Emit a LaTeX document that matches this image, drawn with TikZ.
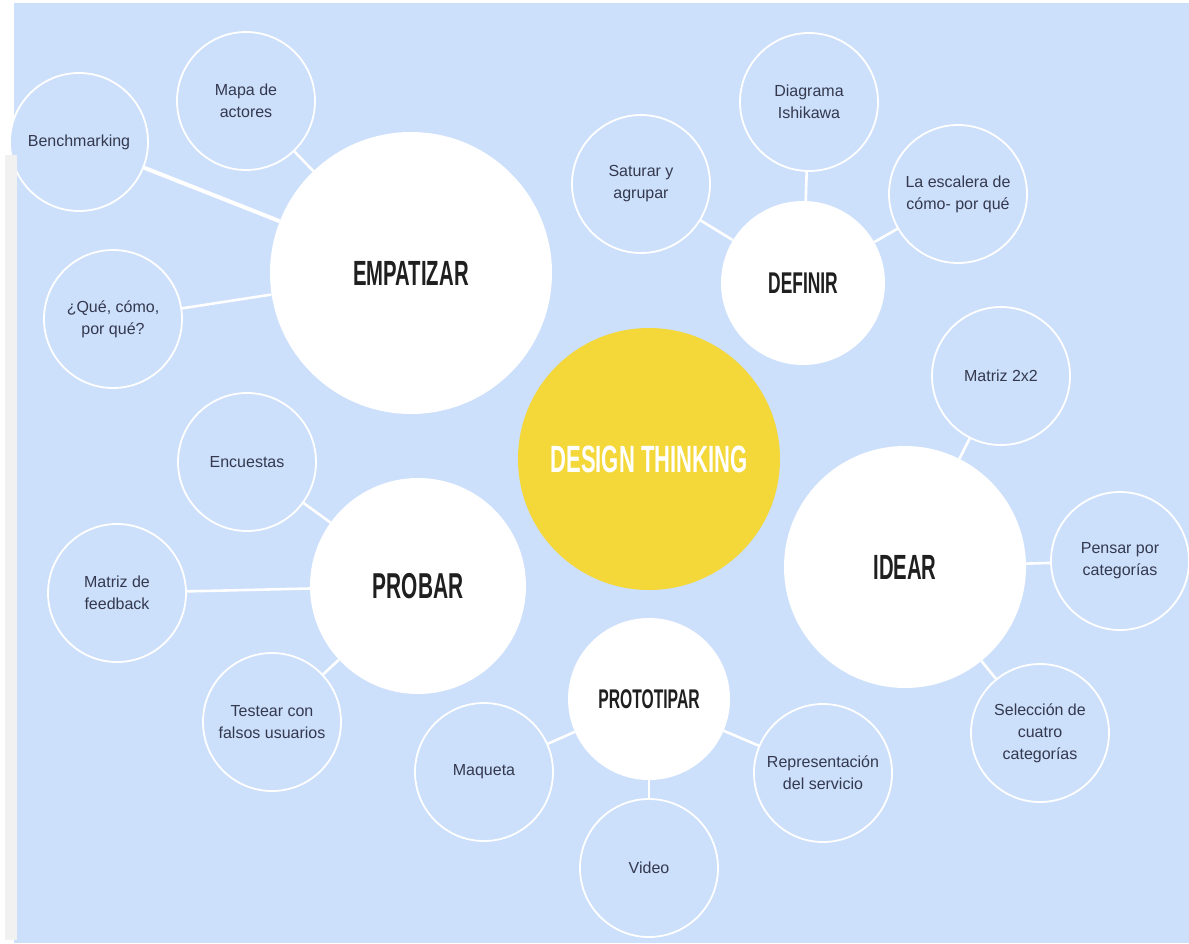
\documentclass[tikz,border=0pt]{standalone}
\usepackage{fontspec}
\setmainfont{Liberation Sans}
\newfontfamily\headfont[FakeStretch=0.58]{Liberation Sans}
\definecolor{skyblue}{RGB}{204,223,251}
\definecolor{sunyellow}{RGB}{244,216,58}
\definecolor{inkblue}{RGB}{52,57,78}
\definecolor{panelgray}{RGB}{241,241,241}

\begin{document}
\begin{tikzpicture}[
        x=1pt, y=-1pt,
        phase/.style={circle, fill=white, inner sep=0pt, text=black!88, font=\headfont\bfseries\fontsize{35}{35}\selectfont},
        core/.style={circle, fill=sunyellow, inner sep=0pt, minimum size=262pt, text=white, font=\headfont\bfseries\fontsize{38}{38}\selectfont},
        tool/.style={circle, draw=white, line width=1.8pt, fill=skyblue, minimum size=138pt, inner sep=0pt, align=center, text=inkblue, font=\fontsize{16}{22}\selectfont},
        link/.style={draw=white, line width=2.6pt}
    ]

    \useasboundingbox (0,0) rectangle (1189,943);

    % Background
    \fill[white] (0,0) rectangle (1189,943);
    \fill[skyblue] (14,3) rectangle (1189,943);

    % Center
    \node[core] (design) at (649,459) {DESIGN THINKING};

    % Phases
    \node[phase, minimum size=282pt] (empatizar) at (411,273) {EMPATIZAR};
    \node[phase, minimum size=164pt, font=\headfont\bfseries\fontsize{30}{30}\selectfont] (definir) at (803,283) {DEFINIR};
    \node[phase, minimum size=242pt] (idear) at (905,567) {IDEAR};
    \node[phase, minimum size=162pt, font=\headfont\bfseries\fontsize{27}{27}\selectfont] (prototipar) at (649,699) {PROTOTIPAR};
    \node[phase, minimum size=216pt, font=\headfont\bfseries\fontsize{36}{36}\selectfont] (probar) at (418,586) {PROBAR};

    % Empatizar tools
    \node[tool] (mapa) at (246,101) {Mapa de\\actores};
    \node[tool] (bench) at (79,142) {Benchmarking};
    \node[tool] (que) at (113,319) {¿Qué, cómo,\\por qué?};

    % Definir tools
    \node[tool] (saturar) at (641,184) {Saturar y\\agrupar};
    \node[tool] (ishikawa) at (809,102) {Diagrama\\Ishikawa};
    \node[tool] (escalera) at (958,194) {La escalera de\\cómo- por qué};

    % Idear tools
    \node[tool] (matriz) at (1001,376) {Matriz 2x2};
    \node[tool] (pensar) at (1120,561) {Pensar por\\categorías};
    \node[tool] (seleccion) at (1040,733) {Selección de\\cuatro\\categorías};

    % Prototipar tools
    \node[tool] (representacion) at (823,773) {Representación\\del servicio};
    \node[tool] (video) at (649,868) {Video};
    \node[tool] (maqueta) at (484,772) {Maqueta};

    % Probar tools
    \node[tool] (testear) at (272,722) {Testear con\\falsos usuarios};
    \node[tool] (feedback) at (117,593) {Matriz de\\feedback};
    \node[tool] (encuestas) at (247,462) {Encuestas};

    % Left panel
    \fill[panelgray] (5,155) rectangle (17,940);

    % Links
    \draw[link] (mapa) -- (empatizar);
    \draw[link, line width=4pt] (bench) -- (empatizar);
    \draw[link] (que) -- (empatizar);
    \draw[link] (saturar) -- (definir);
    \draw[link] (ishikawa) -- (definir);
    \draw[link] (escalera) -- (definir);
    \draw[link] (matriz) -- (idear);
    \draw[link] (pensar) -- (idear);
    \draw[link] (seleccion) -- (idear);
    \draw[link] (representacion) -- (prototipar);
    \draw[link] (video) -- (prototipar);
    \draw[link] (maqueta) -- (prototipar);
    \draw[link] (testear) -- (probar);
    \draw[link] (feedback) -- (probar);
    \draw[link] (encuestas) -- (probar);

    \end{tikzpicture}
\end{document}
